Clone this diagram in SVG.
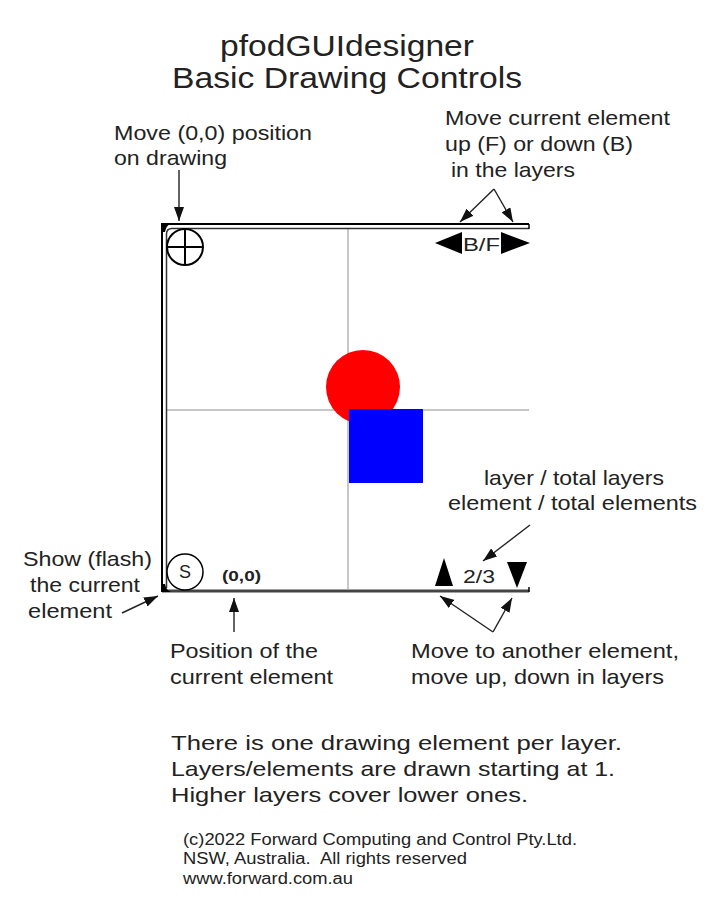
<svg xmlns="http://www.w3.org/2000/svg" width="712" height="900" viewBox="0 0 712 900">
<defs>
<marker id="ah" markerUnits="userSpaceOnUse" markerWidth="14" markerHeight="10" viewBox="0 0 14 10" refX="14" refY="5" orient="auto">
<path d="M0,0 L14,5 L0,10 z" fill="#111"/>
</marker>
<style>
text{font-family:"Liberation Sans",Arial,sans-serif;fill:#222}
.t{font-size:29px}
.b{font-size:21px}
.f{font-size:16px}
.c{fill:none;stroke:#222;stroke-width:1.4}
.g{stroke:#b5b5b5;stroke-width:1.5}
</style>
</defs>
<rect width="712" height="900" fill="#fff"/>
<g id="title">
<text class="t" x="220" y="56" textLength="254" lengthAdjust="spacingAndGlyphs">pfodGUIdesigner</text>
<text class="t" x="172" y="88" textLength="350" lengthAdjust="spacingAndGlyphs">Basic Drawing Controls</text>
</g>
<g id="canvas">
<line class="g" x1="348" y1="229" x2="348" y2="589"/>
<line class="g" x1="167" y1="410" x2="529" y2="410"/>
<path d="M529,224 H162 V592" fill="none" stroke="#000" stroke-width="2"/>
<path d="M529,228.5 H172 Q166.5,228.5 166.5,234 V588" fill="none" stroke="#333" stroke-width="1.5"/>
<path d="M529,224 V229" stroke="#000" stroke-width="1.5"/>
<path d="M162,591 H529" stroke="#444" stroke-width="3"/>
<path d="M529,587 V592" stroke="#000" stroke-width="1.5"/>
<path d="M161,223 H171 Q166,226 165,232 H161 z" fill="#000"/>
<path d="M161,592 H171 Q166,590 165,584 H161 z" fill="#000"/>
</g>
<g id="shapes">
<circle cx="363" cy="387" r="37" fill="#f00"/>
<rect x="349" y="409" width="74" height="74" fill="#00f"/>
</g>
<g id="origin-button">
<circle cx="185" cy="247" r="18" fill="#fff" stroke="#000" stroke-width="2"/>
<line x1="167" y1="247" x2="203" y2="247" stroke="#000" stroke-width="2"/>
<line x1="185" y1="229" x2="185" y2="265" stroke="#000" stroke-width="2"/>
</g>
<g id="show-button">
<circle cx="185" cy="572" r="18" fill="#fff" stroke="#000" stroke-width="1.5"/>
<text x="185" y="578" font-size="18" text-anchor="middle">S</text>
</g>
<g id="pos-label">
<text x="222" y="581" font-size="14" font-weight="bold" textLength="39" lengthAdjust="spacingAndGlyphs">(0,0)</text>
</g>
<g id="bf-control">
<polygon points="435,243 462,232 462,254" fill="#000"/>
<text x="463" y="251" font-size="18" textLength="37" lengthAdjust="spacingAndGlyphs">B/F</text>
<polygon points="530,243 501,232 501,254" fill="#000"/>
</g>
<g id="nav-control">
<polygon points="444,558 435,586 453,586" fill="#000"/>
<text x="463" y="583" font-size="18" textLength="32" lengthAdjust="spacingAndGlyphs">2/3</text>
<polygon points="507,562 527,562 517,588" fill="#000"/>
</g>
<g id="labels">
<text class="b" x="114" y="140" textLength="198" lengthAdjust="spacingAndGlyphs">Move (0,0) position</text>
<text class="b" x="114" y="165" textLength="113" lengthAdjust="spacingAndGlyphs">on drawing</text>
<text class="b" x="445" y="125" textLength="225" lengthAdjust="spacingAndGlyphs">Move current element</text>
<text class="b" x="445" y="151" textLength="188" lengthAdjust="spacingAndGlyphs">up (F) or down (B)</text>
<text class="b" x="451" y="177" textLength="124" lengthAdjust="spacingAndGlyphs">in the layers</text>
<text class="b" x="484" y="485" textLength="180" lengthAdjust="spacingAndGlyphs">layer / total layers</text>
<text class="b" x="448" y="510" textLength="249" lengthAdjust="spacingAndGlyphs">element / total elements</text>
<text class="b" x="23" y="566" textLength="129" lengthAdjust="spacingAndGlyphs">Show (flash)</text>
<text class="b" x="30" y="592" textLength="110" lengthAdjust="spacingAndGlyphs">the current</text>
<text class="b" x="28" y="618" textLength="84" lengthAdjust="spacingAndGlyphs">element</text>
<text class="b" x="170" y="658" textLength="148" lengthAdjust="spacingAndGlyphs">Position of the</text>
<text class="b" x="170" y="684" textLength="163" lengthAdjust="spacingAndGlyphs">current element</text>
<text class="b" x="411" y="658" textLength="268" lengthAdjust="spacingAndGlyphs">Move to another element,</text>
<text class="b" x="411" y="684" textLength="253" lengthAdjust="spacingAndGlyphs">move up, down in layers</text>
<text class="b" x="171" y="750" textLength="451" lengthAdjust="spacingAndGlyphs">There is one drawing element per layer.</text>
<text class="b" x="171" y="776" textLength="444" lengthAdjust="spacingAndGlyphs">Layers/elements are drawn starting at 1.</text>
<text class="b" x="171" y="802" textLength="357" lengthAdjust="spacingAndGlyphs">Higher layers cover lower ones.</text>
</g>
<g id="footer">
<text class="f" x="183" y="845" textLength="394" lengthAdjust="spacingAndGlyphs">(c)2022 Forward Computing and Control Pty.Ltd.</text>
<text class="f" x="183" y="864" textLength="284" lengthAdjust="spacingAndGlyphs">NSW, Australia.&#160; All rights reserved</text>
<text class="f" x="183" y="884" textLength="170" lengthAdjust="spacingAndGlyphs">www.forward.com.au</text>
</g>
<g id="connectors">
<line class="c" x1="179" y1="170" x2="179" y2="221" marker-end="url(#ah)"/>
<line class="c" x1="494" y1="189" x2="460" y2="222" marker-end="url(#ah)"/>
<line class="c" x1="494" y1="189" x2="513" y2="222" marker-end="url(#ah)"/>
<line class="c" x1="530" y1="525" x2="483" y2="561" marker-end="url(#ah)"/>
<line class="c" x1="493" y1="632" x2="440" y2="596" marker-end="url(#ah)"/>
<line class="c" x1="493" y1="632" x2="512" y2="598" marker-end="url(#ah)"/>
<line class="c" x1="234" y1="632" x2="234" y2="598" marker-end="url(#ah)"/>
<line class="c" x1="122" y1="613" x2="158" y2="596" marker-end="url(#ah)"/>
</g>
</svg>
